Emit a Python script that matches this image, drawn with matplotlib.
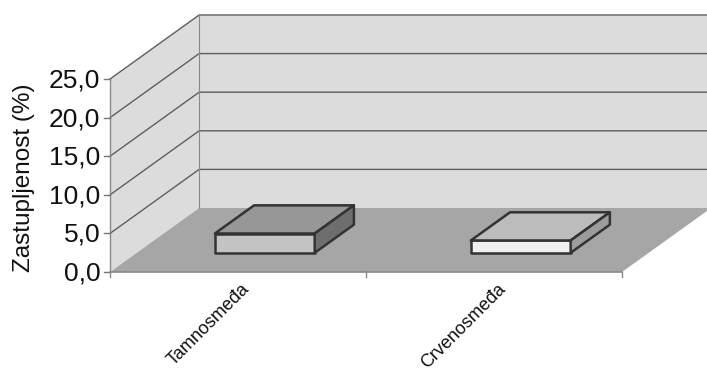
import matplotlib
matplotlib.use("Agg")
import matplotlib.pyplot as plt
from matplotlib.patches import Polygon
import numpy as np

plt.rcParams.update({"font.family": "Liberation Sans"})

# data
categories = ["Tamnosmeđa", "Crvenosmeđa"]
values = [2.5, 1.6]
yticks = [0, 5, 10, 15, 20, 25]
ytick_labels = ["0,0", "5,0", "10,0", "15,0", "20,0", "25,0"]
ylabel = "Zastupljenost (%)"

# fake-3D look: oblique offset per unit depth (x in category units, y in value units)
DX, DY = 0.348, 8.29
YMAX = 25
BAR_HALF = 0.195
BAR_D0, BAR_D1 = 0.30, 0.74

WALL = "#dcdcdc"
FLOOR = "#a6a6a6"
GRID = "#5e5e5e"
EDGE = "#333333"
bar_faces = [("#c4c4c4", "#979797", "#6e6e6e"),   # front, top, side
             ("#efefef", "#bcbcbc", "#9c9c9c")]


def proj(c, v, d):
    return (c + d * DX, v + d * DY)


fig = plt.figure(figsize=(7.07, 3.74), dpi=100)
ax = fig.add_axes([0, 0, 1, 1])
ax.set_xlim(-0.43, 2.332)
ax.set_ylim(-13.21, 35.23)
ax.axis("off")

n = len(categories)

# walls and floor
left_wall = [proj(0, 0, 0), proj(0, YMAX, 0), proj(0, YMAX, 1), proj(0, 0, 1)]
back_wall = [proj(0, 0, 1), proj(0, YMAX, 1), proj(n, YMAX, 1), proj(n, 0, 1)]
floor = [proj(0, 0, 0), proj(n, 0, 0), proj(n, 0, 1), proj(0, 0, 1)]
ax.add_patch(Polygon(left_wall, closed=True, fc=WALL, ec="none", zorder=1))
ax.add_patch(Polygon(back_wall, closed=True, fc=WALL, ec="none", zorder=1))
ax.add_patch(Polygon(floor, closed=True, fc=FLOOR, ec="none", zorder=2))

# gridlines on left and back wall
for v in yticks[1:]:
    pts = [proj(0, v, 0), proj(0, v, 1), proj(n, v, 1)]
    ax.plot(*zip(*pts), color=GRID, lw=1.0, zorder=3)
# wall corner
ax.plot(*zip(proj(0, 0, 1), proj(0, YMAX, 1)), color="#8a8a8a", lw=0.8, zorder=3)

# value axis with ticks
ax.plot(*zip(proj(0, 0, 0), proj(0, YMAX, 0)), color="#8a8a8a", lw=1.0, zorder=3)
for v, lab in zip(yticks, ytick_labels):
    ax.plot([-0.022, 0], [v, v], color="#777777", lw=1.0, zorder=3)
    ax.text(-0.038, v - 0.2, lab, ha="right", va="center", fontsize=19, color="#111111")
ax.text(-0.335, YMAX / 2 - 0.3, ylabel, rotation=90, ha="center", va="center",
        fontsize=17.5, color="#111111")

# category axis
ax.plot([0, n], [0, 0], color="#8a8a8a", lw=1.2, zorder=3)
for c in range(n + 1):
    ax.plot([c, c], [0, -0.7], color="#8a8a8a", lw=1.0, zorder=3)

# bars
for i, (val, (front, top, side)) in enumerate(zip(values, bar_faces)):
    cx = i + 0.5
    l, r = cx - BAR_HALF, cx + BAR_HALF
    f = [proj(l, 0, BAR_D0), proj(r, 0, BAR_D0), proj(r, val, BAR_D0), proj(l, val, BAR_D0)]
    t = [proj(l, val, BAR_D0), proj(r, val, BAR_D0), proj(r, val, BAR_D1), proj(l, val, BAR_D1)]
    s = [proj(r, 0, BAR_D0), proj(r, 0, BAR_D1), proj(r, val, BAR_D1), proj(r, val, BAR_D0)]
    for poly, col in ((f, front), (t, top), (s, side)):
        ax.add_patch(Polygon(poly, closed=True, fc=col, ec=EDGE, lw=1.8,
                             joinstyle="round", zorder=5))

# rotated category labels
for i, lab in enumerate(categories):
    ax.text(i + 0.5 + 0.035, -1.9, lab, rotation=45, rotation_mode="anchor",
            ha="right", va="center", fontsize=13, color="#111111")

fig.savefig("out.png", dpi=100, facecolor="white")
